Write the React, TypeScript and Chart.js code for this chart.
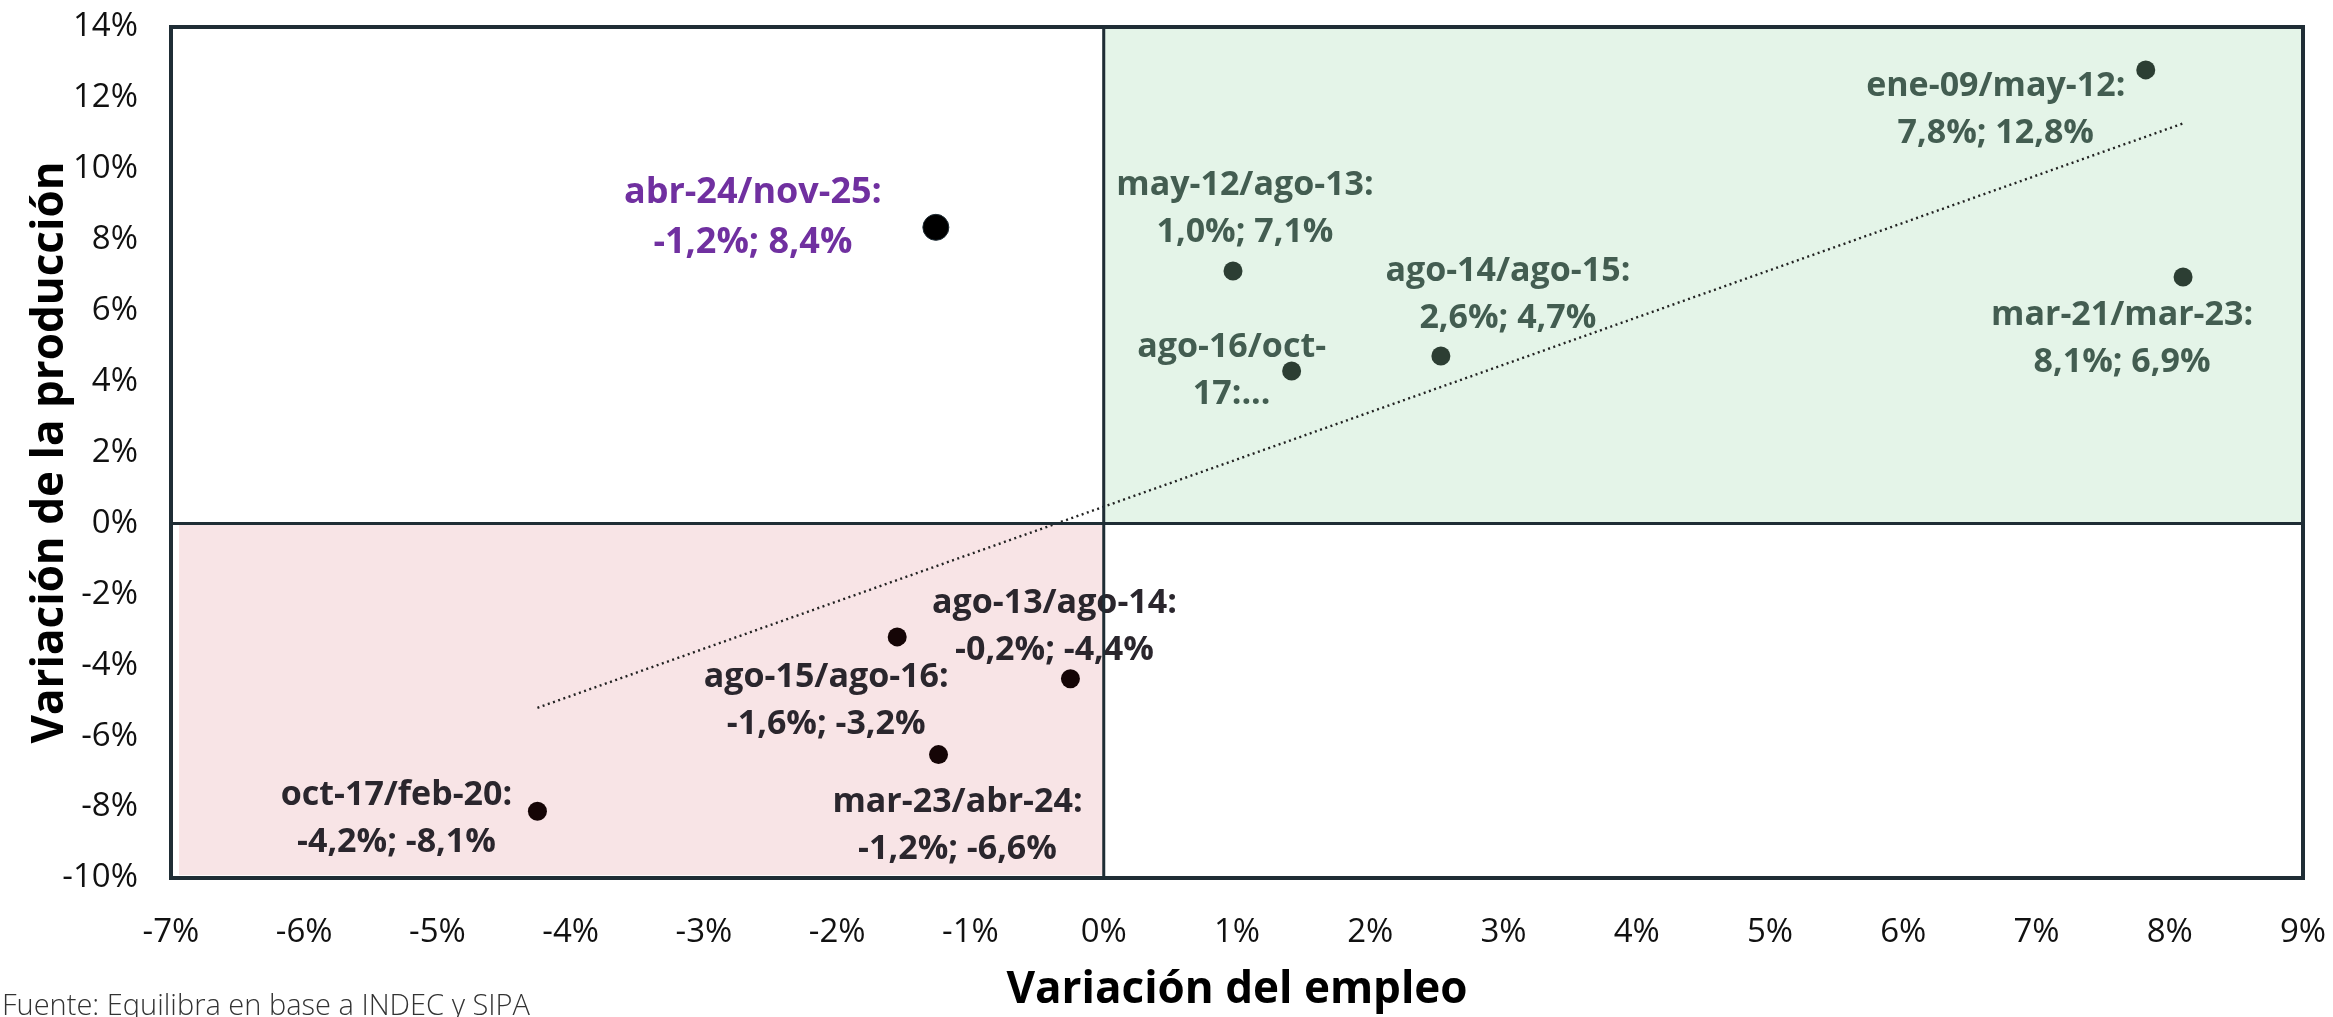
import React, { useEffect, useRef } from "react";
import { Chart, registerables } from "chart.js";

Chart.register(...registerables);

// ---- Data ----
const PERIODS = [
  "ene-09/may-12",
  "mar-21/mar-23",
  "may-12/ago-13",
  "ago-14/ago-15",
  "ago-16/oct-17",
  "ago-13/ago-14",
  "ago-15/ago-16",
  "mar-23/abr-24",
  "oct-17/feb-20",
  "abr-24/nov-25",
];
const EMPLOYMENT = [7.82, 8.1, 0.97, 2.53, 1.41, -0.25, -1.55, -1.24, -4.25, -1.26];
const PRODUCTION = [12.79, 6.95, 7.12, 4.72, 4.3, -4.38, -3.2, -6.52, -8.12, 8.35];
const LABEL_LINE1 = [
  "ene-09/may-12:",
  "mar-21/mar-23:",
  "may-12/ago-13:",
  "ago-14/ago-15:",
  "ago-16/oct-",
  "ago-13/ago-14:",
  "ago-15/ago-16:",
  "mar-23/abr-24:",
  "oct-17/feb-20:",
  "abr-24/nov-25:",
];
const LABEL_LINE2 = [
  "7,8%; 12,8%",
  "8,1%; 6,9%",
  "1,0%; 7,1%",
  "2,6%; 4,7%",
  "17:...",
  "-0,2%; -4,4%",
  "-1,6%; -3,2%",
  "-1,2%; -6,6%",
  "-4,2%; -8,1%",
  "-1,2%; 8,4%",
];
const HIGHLIGHT = "abr-24/nov-25";
const TREND_X = [-4.25, 8.1];
const TREND_Y = [-5.2, 11.28];
const X_TICKS = [-7, -6, -5, -4, -3, -2, -1, 0, 1, 2, 3, 4, 5, 6, 7, 8, 9];
const Y_TICKS = [-10, -8, -6, -4, -2, 0, 2, 4, 6, 8, 10, 12, 14];
const X_TITLE = "Variación del empleo";
const Y_TITLE = "Variación de la producción";
const SOURCE = "Fuente: Equilibra en base a INDEC y SIPA";

// ---- Layout / style (not data) ----
const W = 2333;
const H = 1017;
const FONT = "'Open Sans', 'Noto Sans', sans-serif";
const LABEL_OFFSETS: [number, number][] = [
  [-150, 40],
  [-61, 62],
  [12, -62],
  [67, -61],
  [-60, 0],
  [-16, -52],
  [-71, 64],
  [19, 71],
  [-141, 7],
  [-183, -10],
];
const BORDER = "#1f2d35";
const GREEN_FILL = "#e4f4e8";
const PINK_FILL = "#f8e4e6";
const GREEN_TEXT = "#435d51";
const GREEN_POINT = "#2c3e33";
const RED_TEXT = "#2a262d";
const RED_POINT = "#150506";
const PURPLE = "#7030a0";

function quadrantColor(i: number, kind: "text" | "point") {
  if (PERIODS[i] === HIGHLIGHT) return kind === "text" ? PURPLE : "#000000";
  if (PRODUCTION[i] >= 0) return kind === "text" ? GREEN_TEXT : GREEN_POINT;
  return kind === "text" ? RED_TEXT : RED_POINT;
}

const quadrantPlugin = {
  id: "quadrants",
  beforeDatasetsDraw(chart: any) {
    const { ctx, scales } = chart;
    const xs = scales.x;
    const ys = scales.y;
    ctx.save();
    const gx0 = xs.getPixelForValue(0);
    const gx1 = xs.getPixelForValue(9);
    const gy0 = ys.getPixelForValue(14);
    const gy1 = ys.getPixelForValue(0);
    ctx.fillStyle = GREEN_FILL;
    ctx.fillRect(gx0, gy0, gx1 - gx0, gy1 - gy0);
    ctx.strokeStyle = "#4a5e55";
    ctx.lineWidth = 2;
    ctx.strokeRect(gx0, gy0, gx1 - gx0 - 1, gy1 - gy0);
    const px0 = xs.getPixelForValue(-6.94);
    const px1 = xs.getPixelForValue(0);
    const py0 = ys.getPixelForValue(0);
    const py1 = ys.getPixelForValue(-9.92);
    ctx.fillStyle = PINK_FILL;
    ctx.fillRect(px0, py0, px1 - px0, py1 - py0);
    ctx.restore();
  },
  afterDatasetsDraw(chart: any) {
    const { ctx, scales, chartArea } = chart;
    const xs = scales.x;
    const ys = scales.y;
    ctx.save();
    ctx.textAlign = "center";
    ctx.textBaseline = "middle";
    for (let i = 0; i < PERIODS.length; i++) {
      const px = xs.getPixelForValue(EMPLOYMENT[i]);
      const py = ys.getPixelForValue(PRODUCTION[i]);
      const [dx, dy] = LABEL_OFFSETS[i];
      const big = PERIODS[i] === HIGHLIGHT;
      ctx.font = `700 ${big ? 36 : 34}px ${FONT}`;
      ctx.fillStyle = quadrantColor(i, "text");
      const gap = big ? 25 : 23.5;
      ctx.fillText(LABEL_LINE1[i], px + dx, py + dy - gap);
      ctx.fillText(LABEL_LINE2[i], px + dx, py + dy + gap);
    }
    const zx = xs.getPixelForValue(0);
    const zy = ys.getPixelForValue(0);
    ctx.strokeStyle = BORDER;
    ctx.lineWidth = 3;
    ctx.beginPath();
    ctx.moveTo(zx, chartArea.top);
    ctx.lineTo(zx, chartArea.bottom);
    ctx.moveTo(chartArea.left, zy);
    ctx.lineTo(chartArea.right, zy);
    ctx.stroke();
    ctx.lineWidth = 4;
    ctx.strokeRect(
      chartArea.left,
      chartArea.top,
      chartArea.right - chartArea.left,
      chartArea.bottom - chartArea.top
    );
    ctx.restore();
  },
  afterDraw(chart: any) {
    const { ctx } = chart;
    ctx.save();
    ctx.font = `300 29px ${FONT}`;
    ctx.fillStyle = "#333333";
    ctx.textAlign = "left";
    ctx.textBaseline = "middle";
    ctx.fillText(SOURCE, 2, 1007);
    ctx.restore();
  },
};

export default function App() {
  const ref = useRef<HTMLCanvasElement | null>(null);

  useEffect(() => {
    if (!ref.current) return;
    const points = PERIODS.map((_, i) => ({ x: EMPLOYMENT[i], y: PRODUCTION[i] }));
    const chart = new Chart(ref.current, {
      type: "scatter",
      data: {
        datasets: [
          {
            type: "line",
            label: "Tendencia",
            data: TREND_X.map((x, i) => ({ x, y: TREND_Y[i] })),
            borderColor: "#222222",
            borderWidth: 2.4,
            borderDash: [2, 3.5],
            pointRadius: 0,
            fill: false,
          } as any,
          {
            label: "Períodos",
            data: points,
            pointRadius: PERIODS.map((p) => (p === HIGHLIGHT ? 13 : 9.5)),
            pointBackgroundColor: PERIODS.map((_, i) => quadrantColor(i, "point")),
            pointBorderColor: PERIODS.map((p) => (p === HIGHLIGHT ? "#1f2d35" : "transparent")),
            pointBorderWidth: 1,
          },
        ],
      },
      options: {
        responsive: false,
        animation: false,
        events: [],
        layout: { padding: { left: 0, right: 30, top: 27, bottom: 0 } },
        plugins: {
          legend: { display: false },
          tooltip: { enabled: false },
          title: { display: false },
        },
        scales: {
          x: {
            type: "linear",
            min: -7,
            max: 9,
            afterBuildTicks: (s: any) => {
              s.ticks = X_TICKS.map((v) => ({ value: v }));
            },
            afterFit: (s: any) => {
              s.height = 139;
              s.paddingLeft = 0;
              s.paddingRight = 0;
            },
            ticks: {
              callback: (v: any) => `${v}%`,
              font: { family: FONT, size: 33, weight: 400 },
              color: "#111111",
              padding: 27,
              maxRotation: 0,
              autoSkip: false,
            },
            grid: { display: false },
            border: { display: false },
            title: {
              display: true,
              text: X_TITLE,
              font: { family: FONT, size: 44, weight: 700 },
              color: "#000000",
              lineHeight: 1.1,
              padding: { top: 0, bottom: 0 },
            },
          },
          y: {
            type: "linear",
            min: -10,
            max: 14,
            afterBuildTicks: (s: any) => {
              s.ticks = Y_TICKS.map((v) => ({ value: v }));
            },
            afterFit: (s: any) => {
              s.width = 171;
              s.paddingTop = 0;
              s.paddingBottom = 0;
            },
            ticks: {
              callback: (v: any) => `${v}%`,
              font: { family: FONT, size: 33, weight: 400 },
              color: "#111111",
              padding: 25,
              autoSkip: false,
            },
            grid: { display: false },
            border: { display: false },
            title: {
              display: true,
              text: Y_TITLE,
              font: { family: FONT, size: 44, weight: 700 },
              color: "#000000",
              lineHeight: 1.1,
              padding: { top: 24, bottom: 0 },
            },
          },
        },
      },
      plugins: [quadrantPlugin],
    });
    return () => chart.destroy();
  }, []);

  return (
    <div style={{ position: "fixed", left: 0, top: 0, width: W, height: H, background: "#ffffff" }}>
      <canvas ref={ref} width={W} height={H} style={{ width: W, height: H, display: "block" }} />
    </div>
  );
}
